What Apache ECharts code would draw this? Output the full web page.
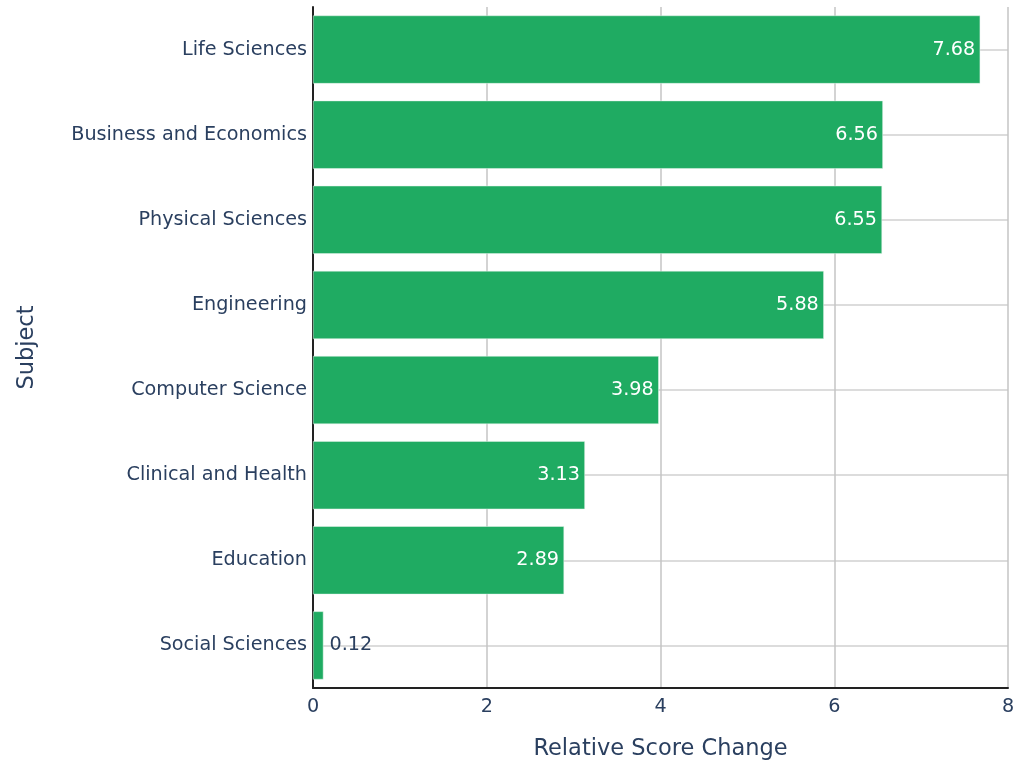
<!DOCTYPE html>
<html><head><meta charset="utf-8">
<script src="https://cdn.jsdelivr.net/npm/echarts@6/dist/echarts.min.js"></script>
<style>html,body{margin:0;padding:0;background:#fff}#c{width:1015px;height:765px}</style>
</head><body><div id="c"></div>
<script>
const categories = ["Life Sciences","Business and Economics","Physical Sciences","Engineering","Computer Science","Clinical and Health","Education","Social Sciences"];
const values = [7.68,6.56,6.55,5.88,3.98,3.13,2.89,0.12];
const xTicks = [0,2,4,6,8];

const font = '"DejaVu Sans", sans-serif';
const txt = '#2a3f5f';
const chart = echarts.init(document.getElementById('c'), null, {renderer:'canvas'});
chart.setOption({
  backgroundColor:'#fff',
  animation:false,
  grid:{left:313,right:7,top:7,bottom:77,containLabel:false,outerBoundsMode:'none'},
  xAxis:{
    type:'value', min:xTicks[0], max:xTicks[xTicks.length-1], interval:2,
    name:'Relative Score Change', nameLocation:'middle', nameGap:50,
    nameTextStyle:{color:txt,fontSize:22.5,fontFamily:font},
    axisLine:{show:true,onZero:false,lineStyle:{color:'#222',width:2}},
    axisTick:{show:false},
    axisLabel:{color:txt,fontSize:19.2,fontFamily:font,margin:10},
    splitLine:{show:true,lineStyle:{color:'#c4c4c4',width:1.5}}
  },
  yAxis:{
    type:'category', data:categories, inverse:true,
    name:'Subject', nameLocation:'middle', nameGap:274,
    nameTextStyle:{color:txt,fontSize:22.5,fontFamily:font},
    axisLine:{show:true,lineStyle:{color:'#222',width:2}},
    axisTick:{show:false},
    axisLabel:{color:txt,fontSize:19.2,fontFamily:font,margin:6},
    splitLine:{show:true,alignWithLabel:true,lineStyle:{color:'#d0d0d0',width:1.5}}
  },
  series:[{
    type:'bar',
    data:values.map(v=>({value:v,label: v<1?{position:'right',color:txt,distance:6}:{}})),
    barCategoryGap:'20%',
    itemStyle:{color:'#1fab62',borderColor:'#e6f4ec',borderWidth:0.5},
    label:{show:true,position:'insideRight',color:'#fff',fontSize:19.2,fontFamily:font,distance:5,
      formatter:p=>p.value.toFixed(2)}
  }]
});
</script></body></html>
